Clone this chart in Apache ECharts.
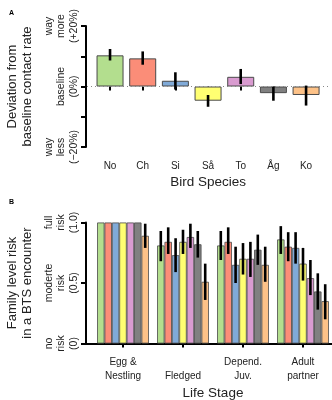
<!DOCTYPE html>
<html>
<head>
<meta charset="utf-8">
<script src="https://cdn.jsdelivr.net/npm/echarts@6/dist/echarts.min.js"></script>
<style>
  html, body { margin: 0; padding: 0; background: #fff; }
  #chart { width: 332px; height: 400px; }
</style>
</head>
<body>
<div id="chart"></div>
<script>
// Panel A: deviation from baseline contact rate (%)
const species = ['No', 'Ch', 'Si', 'Så', 'To', 'Åg', 'Ko'];
const deviation = [10.3, 9.3, 1.9, -4.7, 3.2, -2.2, -2.8];
const devLow = [8.6, 7.2, -1.0, -6.7, 0.8, -4.7, -6.3];
const devHigh = [12.4, 11.6, 4.7, -2.8, 5.8, -0.1, 0.3];
const devTicks = { '-20': 'way\nless\n(−20%)', '0': 'baseline\n(0%)', '20': 'way\nmore\n(+20%)' };

// Panel B: family level risk per life stage, one row per species
const stages = ['Egg &\nNestling', '\nFledged', 'Depend.\nJuv.', 'Adult\npartner'];
const risk = [
    [1.0, 0.81, 0.81, 0.86],
    [1.0, 0.84, 0.84, 0.80],
    [1.0, 0.73, 0.65, 0.79],
    [1.0, 0.84, 0.70, 0.66],
    [1.0, 0.88, 0.70, 0.54],
    [1.0, 0.82, 0.775, 0.43],
    [0.89, 0.51, 0.65, 0.35]
];
const riskLow = [
    [null, 0.68, 0.69, 0.74],
    [null, 0.74, 0.74, 0.68],
    [null, 0.59, 0.50, 0.66],
    [null, 0.74, 0.57, 0.52],
    [null, 0.79, 0.55, 0.40],
    [null, 0.71, 0.65, 0.28],
    [0.79, 0.36, 0.51, 0.20]
];
const riskHigh = [
    [null, 0.93, 0.93, 0.97],
    [null, 0.96, 0.96, 0.92],
    [null, 0.87, 0.80, 0.92],
    [null, 0.94, 0.83, 0.79],
    [null, 0.99, 0.84, 0.69],
    [null, 0.93, 0.90, 0.58],
    [0.99, 0.66, 0.80, 0.49]
];
const riskTicks = { '0': 'no\nrisk\n(0)', '0.5': 'moderte\nrisk\n(0.5)', '1': 'full\nrisk\n(1.0)' };

const colors = ['#b3de8e', '#fb8d78', '#80aad8', '#ffff72', '#d99bd0', '#808080', '#fdc288'];
const font = 'Liberation Sans, Arial, sans-serif';
const barW = 7.4;

const chart = echarts.init(document.getElementById('chart'));

const errBar = (offset) => (params, api) => {
    const p1 = api.coord([api.value(0), api.value(1)]);
    const p2 = api.coord([api.value(0), api.value(2)]);
    return {
        type: 'line',
        shape: { x1: p1[0] + offset, y1: p1[1], x2: p1[0] + offset, y2: p2[1] },
        style: { stroke: '#000', lineWidth: 2.6 }
    };
};

const series = [
    {
        type: 'bar',
        xAxisIndex: 0,
        yAxisIndex: 0,
        barWidth: 27,
        data: deviation.map((v, i) => ({
            value: v,
            itemStyle: { color: colors[i], borderColor: '#4a4a4a', borderWidth: 1 }
        })),
        z: 2
    },
    {
        type: 'custom',
        xAxisIndex: 0,
        yAxisIndex: 0,
        renderItem: errBar(0),
        data: species.map((s, i) => [i, devLow[i], devHigh[i]]),
        z: 5
    },
    {
        // dotted baseline across panel A
        type: 'line',
        xAxisIndex: 3,
        yAxisIndex: 3,
        data: [],
        markLine: {
            silent: true,
            symbol: 'none',
            label: { show: false },
            lineStyle: { color: '#888', type: [1, 3], width: 1 },
            data: [{ yAxis: 0 }]
        },
        z: 1
    }
];

species.forEach((s, i) => {
    series.push({
        name: s,
        type: 'bar',
        xAxisIndex: 1,
        yAxisIndex: 1,
        barWidth: barW,
        barGap: '0%',
        itemStyle: { color: colors[i], borderColor: '#4a4a4a', borderWidth: 0.8 },
        data: risk[i],
        z: 2
    });
});
species.forEach((s, i) => {
    const pts = [];
    stages.forEach((st, j) => {
        if (riskLow[i][j] != null) pts.push([j, riskLow[i][j], riskHigh[i][j]]);
    });
    series.push({
        type: 'custom',
        xAxisIndex: 1,
        yAxisIndex: 1,
        renderItem: errBar((i - 3) * barW),
        data: pts,
        z: 5
    });
});

const yLabel = (map) => ({
    rotate: 90,
    color: '#222',
    fontSize: 10.5,
    lineHeight: 12.5,
    margin: 6,
    formatter: (v) => map[String(v)] || ''
});

chart.setOption({
    animation: false,
    textStyle: { fontFamily: font },
    title: [
        { text: 'A', left: 4, top: 5, textStyle: { fontSize: 7, fontWeight: 'bold', color: '#000' } },
        { text: 'B', left: 4, top: 194, textStyle: { fontSize: 7, fontWeight: 'bold', color: '#000' } }
    ],
    grid: [
        { left: 93.7, width: 228.7, top: 26, height: 121, outerBoundsMode: 'none' },
        { left: 93, width: 240, top: 222.5, height: 121, outerBoundsMode: 'none' },
        // only carries the full-length baseline of panel B
        { left: 86, right: 0, top: 222.5, height: 121, outerBoundsMode: 'none' },
        // only carries the dotted zero line of panel A
        { left: 87, right: 2, top: 26, height: 121, outerBoundsMode: 'none' }
    ],
    xAxis: [
        {
            gridIndex: 0,
            type: 'category',
            data: species,
            axisLine: { show: false },
            axisTick: { show: true, alignWithLabel: true, length: 4, lineStyle: { color: '#000', width: 2 } },
            axisLabel: { color: '#222', fontSize: 10, margin: 14 },
            name: 'Bird Species',
            nameLocation: 'middle',
            nameGap: 28,
            nameTextStyle: { color: '#222', fontSize: 13.5 }
        },
        {
            gridIndex: 1,
            type: 'category',
            data: stages,
            axisLine: { show: false },
            axisTick: { show: true, alignWithLabel: true, length: 4, lineStyle: { color: '#000', width: 2 } },
            axisLabel: { color: '#222', fontSize: 10, lineHeight: 13.5, margin: 12 },
            name: 'Life Stage',
            nameLocation: 'middle',
            nameGap: 43,
            nameTextStyle: { color: '#222', fontSize: 13.5 }
        },
        {
            gridIndex: 2,
            type: 'value',
            axisLine: { show: true, lineStyle: { color: '#000', width: 2 } },
            axisTick: { show: false },
            axisLabel: { show: false },
            splitLine: { show: false }
        },
        {
            gridIndex: 3,
            type: 'value',
            show: false
        }
    ],
    yAxis: [
        {
            gridIndex: 0,
            type: 'value',
            min: -20,
            max: 20,
            interval: 10,
            offset: 7.7,
            axisLine: { show: true, lineStyle: { color: '#000', width: 2 } },
            axisTick: { show: true, length: 5, lineStyle: { color: '#000', width: 2 } },
            splitLine: { show: false },
            axisLabel: yLabel(devTicks),
            name: 'Deviation from\nbaseline contact rate',
            nameLocation: 'middle',
            nameRotate: 90,
            nameGap: 39,
            nameTextStyle: { color: '#222', fontSize: 13, lineHeight: 15 }
        },
        {
            gridIndex: 1,
            type: 'value',
            min: 0,
            max: 1,
            interval: 0.5,
            offset: 7,
            axisLine: { show: true, lineStyle: { color: '#000', width: 2 } },
            axisTick: { show: true, length: 5, lineStyle: { color: '#000', width: 2 } },
            splitLine: { show: false },
            axisLabel: yLabel(riskTicks),
            name: 'Family level risk\nin a BTS encounter',
            nameLocation: 'middle',
            nameRotate: 90,
            nameGap: 39,
            nameTextStyle: { color: '#222', fontSize: 13, lineHeight: 15 }
        },
        {
            gridIndex: 2,
            type: 'value',
            show: false
        },
        {
            gridIndex: 3,
            type: 'value',
            min: -20,
            max: 20,
            show: false
        }
    ],
    series: series
});
</script>
</body>
</html>
